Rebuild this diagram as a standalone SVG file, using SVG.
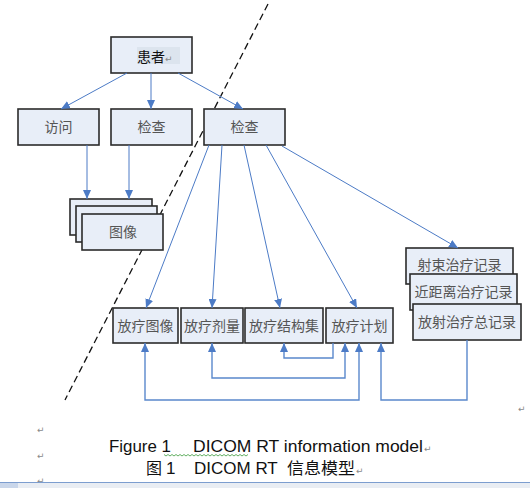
<svg xmlns="http://www.w3.org/2000/svg" width="530" height="488" viewBox="0 0 530 488">
<style>
.box{fill:#E8EEF8;stroke:#2b2b2b;stroke-width:1.6}
.lbl{font-family:"Noto Sans CJK SC","Noto Sans CJK JP",sans-serif;font-size:14px;fill:#555;text-anchor:middle}
.con{fill:none;stroke:#4C7BC6;stroke-width:1}
.con2{fill:none;stroke:#5A88CC;stroke-width:1.4}
.ret{font-family:"DejaVu Sans",sans-serif;font-size:9px;fill:#8a8a8a}
.cap{font-family:"Liberation Sans",Arial,sans-serif;font-size:17px;fill:#111}
.capc{font-family:"Noto Sans CJK SC",sans-serif;font-size:16px;fill:#111}
</style>
<defs>
<marker id="ah" markerUnits="userSpaceOnUse" markerWidth="9" markerHeight="8" refX="9" refY="4" orient="auto-start-reverse" viewBox="0 0 9 8">
<path d="M0,0 L9,4 L0,8 z" fill="#4C7BC6"/>
</marker>
</defs>
<rect width="530" height="488" fill="#ffffff"/>

<!-- dashed separator -->
<line x1="268" y1="4" x2="65" y2="400" stroke="#111" stroke-width="1.3" stroke-dasharray="7 4"/>

<g id="patient">
<rect class="box" x="111" y="37" width="81" height="36"/>
<rect x="137" y="47" width="43" height="17" fill="#DCE4EE"/>
<text x="137" y="62" class="lbl" style="text-anchor:start;fill:#111">患者</text>
<text x="165" y="62" class="ret">↵</text>
</g>
<g id="visit">
<rect class="box" x="18" y="109" width="81" height="36"/>
<text x="58.5" y="132" class="lbl">访问</text>
</g>
<g id="study1">
<rect class="box" x="111" y="109" width="81" height="36"/>
<text x="151.5" y="132" class="lbl">检查</text>
</g>
<g id="study2">
<rect class="box" x="204" y="109" width="81" height="36"/>
<text x="244.5" y="132" class="lbl">检查</text>
</g>
<g id="image">
<rect class="box" x="70" y="199" width="82" height="36"/>
<rect class="box" x="76" y="206" width="81" height="36"/>
<rect class="box" x="82" y="214" width="81" height="36"/>
<text x="123" y="237" class="lbl">图像</text>
</g>
<g id="rt-image">
<rect class="box" x="113" y="308" width="65" height="35"/>
<text x="145.5" y="331" class="lbl">放疗图像</text>
</g>
<g id="rt-dose">
<rect class="box" x="181" y="308" width="62" height="35"/>
<text x="212" y="331" class="lbl">放疗剂量</text>
</g>
<g id="rt-structure">
<rect class="box" x="245" y="308" width="78" height="35"/>
<text x="284" y="331" class="lbl">放疗结构集</text>
</g>
<g id="rt-plan">
<rect class="box" x="326" y="308" width="67" height="35"/>
<text x="359.5" y="331" class="lbl">放疗计划</text>
</g>
<g id="rt-records">
<rect class="box" x="406" y="248" width="107" height="36"/>
<text x="459.5" y="270" class="lbl">射束治疗记录</text>
<rect class="box" x="410" y="274" width="107" height="36"/>
<text x="463.5" y="297" class="lbl">近距离治疗记录</text>
<rect class="box" x="413" y="304" width="108" height="36"/>
<text x="467" y="327" class="lbl">放射治疗总记录</text>
</g>

<g id="connectors">
<line class="con" x1="127" y1="73" x2="61" y2="109" marker-end="url(#ah)"/>
<line class="con" x1="151" y1="73" x2="151" y2="109" marker-end="url(#ah)"/>
<line class="con" x1="178" y1="73" x2="243" y2="109" marker-end="url(#ah)"/>
<line class="con" x1="87" y1="145" x2="87" y2="199" marker-end="url(#ah)"/>
<line class="con" x1="129" y1="145" x2="129" y2="199" marker-end="url(#ah)"/>
<line class="con" x1="209" y1="145" x2="146" y2="308" marker-end="url(#ah)"/>
<line class="con" x1="222" y1="145" x2="212" y2="308" marker-end="url(#ah)"/>
<line class="con" x1="244" y1="145" x2="280" y2="308" marker-end="url(#ah)"/>
<line class="con" x1="266" y1="145" x2="357" y2="308" marker-end="url(#ah)"/>
<line class="con" x1="282" y1="146" x2="458" y2="248" marker-end="url(#ah)"/>
<path class="con2" d="M145,343 V400 H359 V343" marker-start="url(#ah)" marker-end="url(#ah)"/>
<path class="con2" d="M212,343 V378 H345 V343" marker-start="url(#ah)" marker-end="url(#ah)"/>
<path class="con2" d="M333,343 V358 H284 V343" marker-end="url(#ah)"/>
<path class="con2" d="M467,340 V400 H381 V343" marker-end="url(#ah)"/>
</g>

<!-- paragraph marks -->
<text x="518" y="412" class="ret">↵</text>
<text x="37" y="433" class="ret">↵</text>
<text x="37" y="459" class="ret">↵</text>
<text x="37" y="484" class="ret">↵</text>

<!-- caption -->
<text x="109" y="452" class="cap" textLength="62" lengthAdjust="spacingAndGlyphs">Figure 1</text>
<text x="193" y="452" class="cap" textLength="230" lengthAdjust="spacingAndGlyphs">DICOM RT information model</text>
<text x="424" y="452" class="ret">↵</text>
<path d="M164,454.5 l2,1.5 l2,-1.5 l2,1.5 l2,-1.5 l2,1.5 l2,-1.5 l2,1.5 l2,-1.5 l2,1.5 l2,-1.5 l2,1.5 l2,-1.5 l2,1.5 l2,-1.5 l2,1.5 l2,-1.5 l2,1.5 l2,-1.5 l2,1.5 l2,-1.5 l2,1.5 l2,-1.5 l2,1.5 l2,-1.5 l2,1.5 l2,-1.5 l2,1.5 l2,-1.5 l2,1.5 l2,-1.5 l2,1.5 l2,-1.5 l2,1.5 l2,-1.5 l2,1.5 l2,-1.5 l2,1.5 l2,-1.5 l2,1.5 l2,-1.5 l2,1.5 l2,-1.5" fill="none" stroke="#3b9b3b" stroke-width="0.8"/>
<text x="146" y="474" class="capc">图</text>
<text x="166" y="474" class="cap">1</text>
<text x="194" y="474" class="cap">DICOM RT</text>
<text x="287" y="474" class="capc" textLength="68" lengthAdjust="spacingAndGlyphs">信息模型</text>
<text x="356" y="474" class="ret">↵</text>

<!-- bottom bar -->
<rect x="0" y="482" width="530" height="6" fill="#E9EDF3"/>
<line x1="0" y1="482.5" x2="530" y2="482.5" stroke="#7C9DCF" stroke-width="1"/>
<rect x="0" y="483" width="18" height="5" fill="#C9D6EA"/>
</svg>
